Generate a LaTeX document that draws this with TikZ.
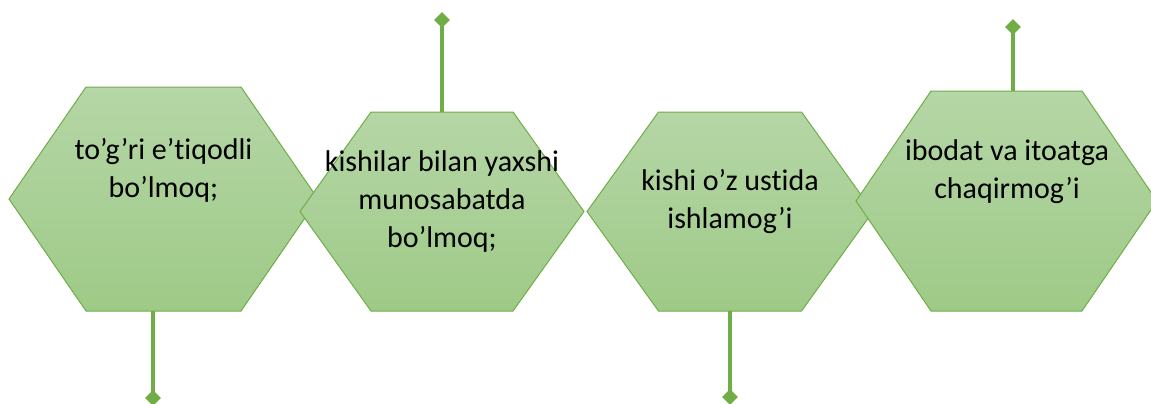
\documentclass[tikz,border=0pt]{standalone}
\usepackage{fontspec}
\setmainfont{Carlito}[Ligatures=NoCommon,Contextuals=NoAlternate,RawFeature={-liga,-clig,-calt}]
\usepackage{tikz}
\usetikzlibrary{shapes.geometric}
\definecolor{hextop}{RGB}{181,214,166}
\definecolor{hexbot}{RGB}{158,202,135}
\definecolor{hexline}{RGB}{112,173,71}
\newcommand{\nolig}{\kern0pt}
\tikzset{
  hexshape/.style={top color=hextop,bottom color=hexbot,draw=hexline,line width=0.75pt},
  hextext/.style={align=center,inner sep=0pt,anchor=base,font=\fontsize{22.5}{28.2}\selectfont},
  stemline/.style={draw=hexline,line width=2.4pt},
  knob/.style={diamond,fill=hexline,inner sep=0pt,minimum width=12pt,minimum height=12pt}
}
\begin{document}
\begin{tikzpicture}[x=0.75pt,y=-0.75pt]
\useasboundingbox (0,0) rectangle (1151,403);
% hexagons, drawn left to right so each one lies over the one before
\path[hexshape] (9,199) -- (86,87) -- (241,87) -- (318,199) -- (241,311) -- (86,311) -- cycle;
\path[hexshape] (300,211.5) -- (371,112) -- (513,112) -- (584,211.5) -- (513,311) -- (371,311) -- cycle;
\path[hexshape] (587,211.5) -- (658.5,112) -- (801.5,112) -- (873,211.5) -- (801.5,311) -- (658.5,311) -- cycle;
\path[hexshape] (856,201) -- (931,91) -- (1082,91) -- (1157,201) -- (1082,311) -- (931,311) -- cycle;
% texts (base = last line)
\node[hextext] (t1) at (163.5,197) {to’g’ri e’t\nolig iqodli\\bo’lmoq;};
\node[hextext] (t2) at (442,247) {kishilar bilan yaxshi\\munosabatda\\bo’lmoq;};
\node[hextext] (t3) at (730,228) {kishi o’z ust\nolig ida\\ishlamog’i};
\node[hextext] (t4) at (1007,198) {ibodat va itoatga\\chaqirmog’i};
% stems
\coordinate (s1) at (153,311);
\coordinate (s2) at (442,112);
\coordinate (s3) at (730,311);
\coordinate (s4) at (1013,91);
\node[knob] (k1) at (153,398) {};
\node[knob] (k2) at (442,20) {};
\node[knob] (k3) at (730,397) {};
\node[knob] (k4) at (1013,27) {};
\draw[stemline] (s1) -- (k1.center);
\draw[stemline] (s2) -- (k2.center);
\draw[stemline] (s3) -- (k3.center);
\draw[stemline] (s4) -- (k4.center);
\end{tikzpicture}
\end{document}
